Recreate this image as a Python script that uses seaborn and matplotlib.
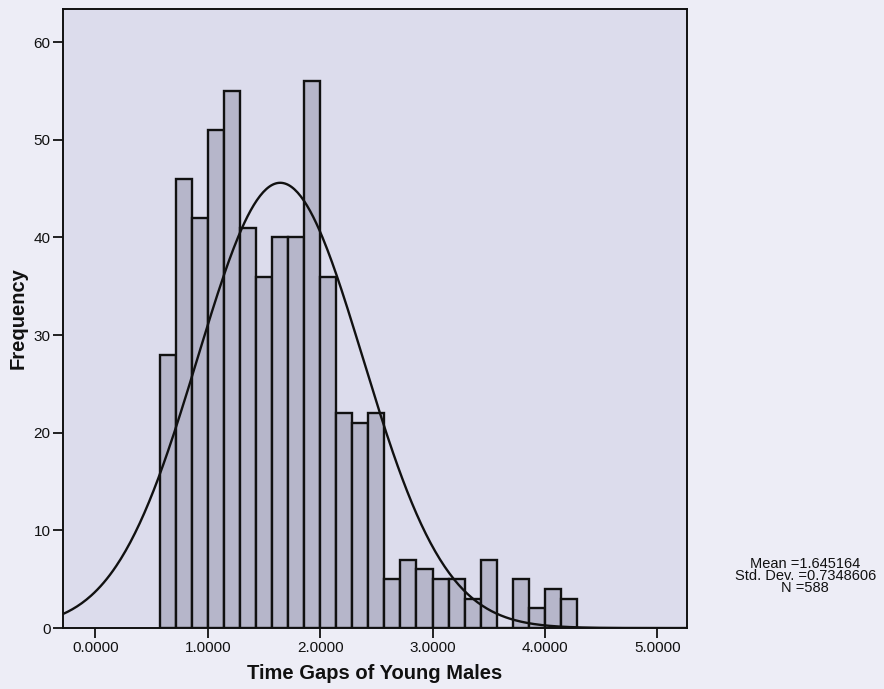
import numpy as np
import pandas as pd
import matplotlib
matplotlib.use("Agg")
import matplotlib.pyplot as plt
import seaborn as sns

# Histogram bins (width 1/7 starting at 4/7) and their frequencies
bin_start = 4 / 7
bin_width = 1 / 7
counts = [28, 46, 42, 51, 55, 41, 36, 40, 40, 56, 36, 22, 21, 22,
          5, 7, 6, 5, 5, 3, 7, 0, 5, 2, 4, 3]

# Summary statistics of the sample
mean_val = 1.645164
std_val = 0.7348606
n_val = 588

x_ticks = [0, 1, 2, 3, 4, 5]
x_tick_labels = ["0.0000", "1.0000", "2.0000", "3.0000", "4.0000", "5.0000"]
y_ticks = [0, 10, 20, 30, 40, 50, 60]

edges = [bin_start + bin_width * i for i in range(len(counts) + 1)]
centers = [(a + b) / 2 for a, b in zip(edges[:-1], edges[1:])]
hist_df = pd.DataFrame({"gap": centers, "freq": counts})

sns.set_theme(style="white")
plt.rcParams["font.family"] = ["Liberation Sans", "DejaVu Sans"]

page_bg = "#ededf6"
plot_bg = "#dcdcec"
bar_col = "#b6b6ca"
ink = "#111111"

fig = plt.figure(figsize=(8.84, 6.89), dpi=100, facecolor=page_bg)
ax = fig.add_axes([0.0713, 0.0885, 0.7059, 0.8984])
ax.set_facecolor(plot_bg)

sns.histplot(data=hist_df, x="gap", weights="freq", bins=edges, ax=ax,
             color=bar_col, alpha=1.0, edgecolor=ink, linewidth=1.7)

# Fitted normal curve scaled to the histogram
xmin, xmax = -0.287, 5.264
xs = np.linspace(xmin, xmax, 400)
ys = n_val * bin_width * np.exp(-0.5 * ((xs - mean_val) / std_val) ** 2) / (std_val * np.sqrt(2 * np.pi))
sns.lineplot(x=xs, y=ys, ax=ax, color=ink, linewidth=1.7)

ax.set_xlim(xmin, xmax)
ax.set_ylim(0, 63.4)
ax.set_xticks(x_ticks)
ax.set_xticklabels(x_tick_labels)
ax.set_yticks(y_ticks)
ax.tick_params(axis="both", which="major", direction="out", length=7, width=1.3,
               color=ink, labelsize=11, labelcolor=ink,
               bottom=True, left=True, pad=2)
for side in ["left", "right", "top", "bottom"]:
    ax.spines[side].set_visible(True)
    ax.spines[side].set_color(ink)
    ax.spines[side].set_linewidth(1.4)

ax.set_xlabel("Time Gaps of Young Males", fontsize=14.5, fontweight="bold", color=ink)
ax.set_ylabel("Frequency", fontsize=14.5, fontweight="bold", color=ink)
ax.xaxis.set_label_coords(0.5, -0.058)
ax.yaxis.set_label_coords(-0.056, 0.5)

fig.text(0.911, 0.164,
         f"Mean ={mean_val}\nStd. Dev. ={std_val}\nN ={n_val}",
         ha="center", va="center", fontsize=10.5, color=ink, linespacing=0.85)

fig.savefig("out.png", dpi=100, facecolor=page_bg)
